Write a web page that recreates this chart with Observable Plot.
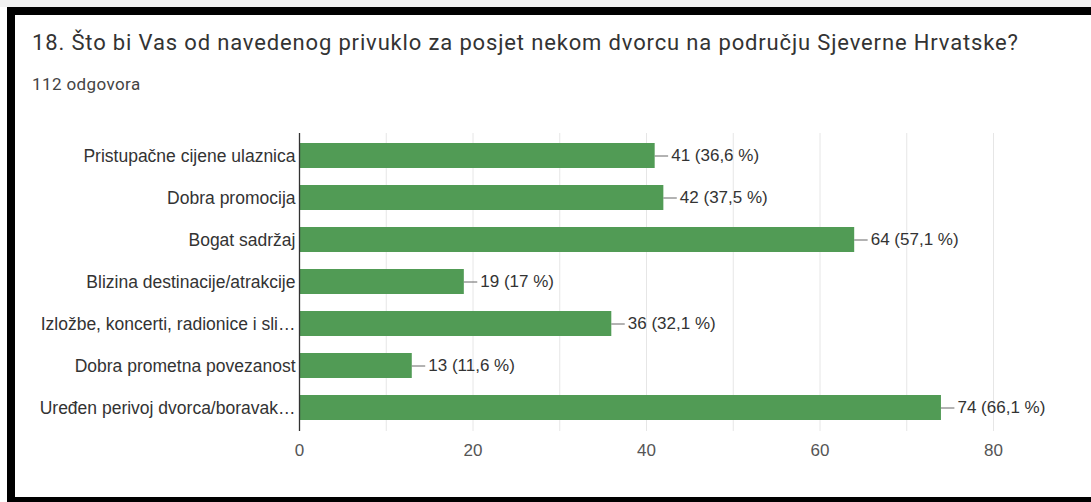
<!DOCTYPE html>
<html>
<head>
<meta charset="utf-8">
<script src="https://cdn.jsdelivr.net/npm/d3@7"></script>
<script src="https://cdn.jsdelivr.net/npm/@observablehq/plot@0.6"></script>
<style>
  html, body { margin: 0; padding: 0; background: #ffffff; width: 1091px; height: 502px; overflow: hidden; }
  #strip { position: absolute; left: 0; top: 0; width: 1091px; height: 7px; background: #f1f1f1; }
  #frame { position: absolute; left: 7px; top: 7px; width: 1084px; height: 495px; box-sizing: border-box;
           border-top: 8px solid #000; border-left: 8px solid #000; border-bottom: 5px solid #000; }
  #title { position: absolute; left: 32px; top: 30px; font-family: Roboto, "Noto Sans", sans-serif; font-size: 22px;
           letter-spacing: 0.85px; color: #333; white-space: nowrap; line-height: 26px; }
  #subtitle { position: absolute; left: 32px; top: 74px; font-family: Roboto, "Noto Sans", sans-serif; font-size: 17px;
           letter-spacing: 0.4px; color: #444; white-space: nowrap; line-height: 20px; }
  #chart { position: absolute; left: 15px; top: 100px; }
  #chart svg { background: transparent; }
</style>
</head>
<body>
<div id="strip"></div>
<div id="frame"></div>
<div id="title">18. Što bi Vas od navedenog privuklo za posjet nekom dvorcu na području Sjeverne Hrvatske?</div>
<div id="subtitle">112 odgovora</div>
<div id="chart"></div>
<script>
const categories = [
  "Pristupačne cijene ulaznica",
  "Dobra promocija",
  "Bogat sadržaj",
  "Blizina destinacije/atrakcije",
  "Izložbe, koncerti, radionice i sli…",
  "Dobra prometna povezanost",
  "Uređen perivoj dvorca/boravak…"
];
const counts = [41, 42, 64, 19, 36, 13, 74];
const percents = ["36,6", "37,5", "57,1", "17", "32,1", "11,6", "66,1"];
const xTicks = [0, 20, 40, 60, 80];
const gridValues = [10, 20, 30, 40, 50, 60, 70, 80];

const data = categories.map((c, i) => ({
  category: c,
  count: counts[i],
  label: `${counts[i]} (${percents[i]} %)`
}));

const chart = Plot.plot({
  width: 1076,
  height: 380,
  marginLeft: 284,
  marginRight: 98,
  marginTop: 33,
  marginBottom: 49,
  style: { fontFamily: "'Liberation Sans', Arial, sans-serif", fontSize: "17.5px", background: "transparent" },
  x: { domain: [0, 80] },
  y: { domain: categories, paddingInner: 0.4, paddingOuter: 0.2 },
  marks: [
    Plot.ruleX(gridValues, { stroke: "#e6e6e6", strokeWidth: 1 }),
    Plot.ruleY([0], { frameAnchor: "bottom", stroke: "#e3edf2", strokeWidth: 1.5 }),
    Plot.barX(data, { x: "count", y: "category", fill: "#519b55" }),
    Plot.ruleY(data, { y: "category", x1: "count", x2: d => d.count + 1.55, stroke: "#666", strokeWidth: 1 }),
    Plot.text(data, { y: "category", x: "count", text: "label", dx: 16, textAnchor: "start", fill: "#333", fontSize: 17 }),
    Plot.ruleX([0], { stroke: "#333", strokeWidth: 1.3 }),
    Plot.axisY({ tickSize: 0, tickPadding: 4, fontSize: 17.5, color: "#333", label: null }),
    Plot.axisX(xTicks, { tickSize: 0, tickPadding: 12, fontSize: 17, color: "#555", label: null })
  ]
});
document.getElementById("chart").appendChild(chart);
</script>
</body>
</html>
